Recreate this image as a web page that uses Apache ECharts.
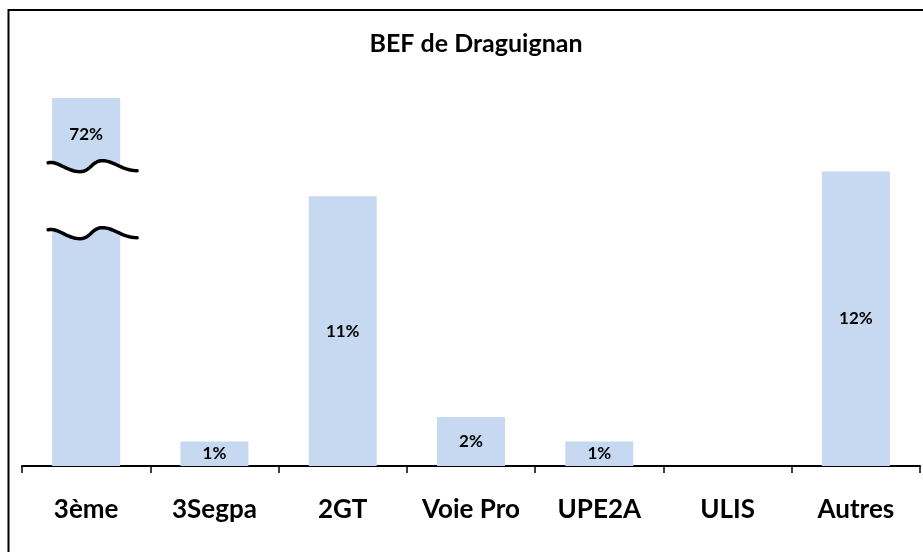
<!DOCTYPE html>
<html>
<head>
<meta charset="utf-8">
<script src="https://cdn.jsdelivr.net/npm/echarts@6/dist/echarts.min.js"></script>
<style>
  html, body { margin: 0; padding: 0; background: #fff; }
  #chart { width: 923px; height: 552px; }
</style>
</head>
<body>
<div id="chart"></div>
<script>
// categories and shares (%)
const categories = ["3ème", "3Segpa", "2GT", "Voie Pro", "UPE2A", "ULIS", "Autres"];
const shares = [72, 1, 11, 2, 1, 0, 12];
// the 3ème bar is cut: the axis stops at 15 and a break is drawn between these values
const brokenIndex = 0;
const breakValues = [12.24, 9.51];

const font = "Lato, 'Open Sans', sans-serif";

var myChart = echarts.init(document.getElementById("chart"));

function seriesData() {
  return shares.map(function (v, i) {
    if (i === brokenIndex) {
      return { value: v, label: { position: "insideTop", distance: 28 } };
    }
    return v;
  });
}

myChart.setOption({
  animation: false,
  title: {
    text: "BEF de Draguignan",
    left: 471,
    textAlign: "center",
    top: 26,
    textStyle: { fontFamily: font, fontWeight: "bold", fontSize: 25, color: "#000" },
  },
  grid: { left: 22, right: 3, top: 98, bottom: 86, containLabel: false },
  xAxis: {
    type: "category",
    data: categories,
    boundaryGap: true,
    axisLine: { lineStyle: { color: "#000", width: 2 } },
    axisTick: { show: true, alignWithLabel: false, length: 7, lineStyle: { color: "#000", width: 1.5 } },
    axisLabel: { margin: 31, fontFamily: font, fontWeight: "bold", fontSize: 26, color: "#000" },
  },
  yAxis: {
    type: "value",
    min: 0,
    max: 15,
    show: false,
    splitLine: { show: false },
  },
  series: [
    {
      type: "bar",
      data: seriesData(),
      barWidth: "53%",
      clip: true,
      itemStyle: { color: "#C6D9F0" },
      label: {
        show: true,
        position: "inside",
        fontFamily: font,
        fontWeight: "bold",
        fontSize: 17,
        color: "#000",
        formatter: function (p) {
          return p.value ? p.value + "%" : "";
        },
      },
    },
  ],
});

// wave shape of the break marks, as cubic segments relative to (bar centre, break line)
var waveSegs = [
  [[-38, -3], [-28, -5], [-19, 6], [-6, 6]],
  [[-6, 6], [4, 6], [6, -5], [16, -5]],
  [[16, -5], [28, -5], [36, 5], [51, 5]],
];

function wavePoints(cx, y) {
  var pts = [];
  waveSegs.forEach(function (s, k) {
    for (var i = k === 0 ? 0 : 1; i <= 16; i++) {
      var t = i / 16, u = 1 - t;
      var px = u * u * u * s[0][0] + 3 * u * u * t * s[1][0] + 3 * u * t * t * s[2][0] + t * t * t * s[3][0];
      var py = u * u * u * s[0][1] + 3 * u * u * t * s[1][1] + 3 * u * t * t * s[2][1] + t * t * t * s[3][1];
      pts.push([cx + px, y + py]);
    }
  });
  return pts;
}

var cx = myChart.convertToPixel({ xAxisIndex: 0 }, categories[brokenIndex]);
var y1 = myChart.convertToPixel({ yAxisIndex: 0 }, breakValues[0]);
var y2 = myChart.convertToPixel({ yAxisIndex: 0 }, breakValues[1]);
var upper = wavePoints(cx, y1);
var lower = wavePoints(cx, y2);

myChart.setOption({
  graphic: [
    {
      type: "rect",
      shape: { x: 8.5, y: 10, width: 960, height: 600 },
      style: { fill: "none", stroke: "#000", lineWidth: 2 },
      silent: true,
      z: 100,
    },
    {
      type: "polygon",
      shape: { points: upper.concat(lower.slice().reverse()) },
      style: { fill: "#fff", stroke: null },
      silent: true,
      z: 100,
    },
    {
      type: "polyline",
      shape: { points: upper },
      style: { fill: null, stroke: "#000", lineWidth: 3.5, lineJoin: "round", lineCap: "round" },
      silent: true,
      z: 101,
    },
    {
      type: "polyline",
      shape: { points: lower },
      style: { fill: null, stroke: "#000", lineWidth: 3.5, lineJoin: "round", lineCap: "round" },
      silent: true,
      z: 101,
    },
  ],
});
</script>
</body>
</html>
